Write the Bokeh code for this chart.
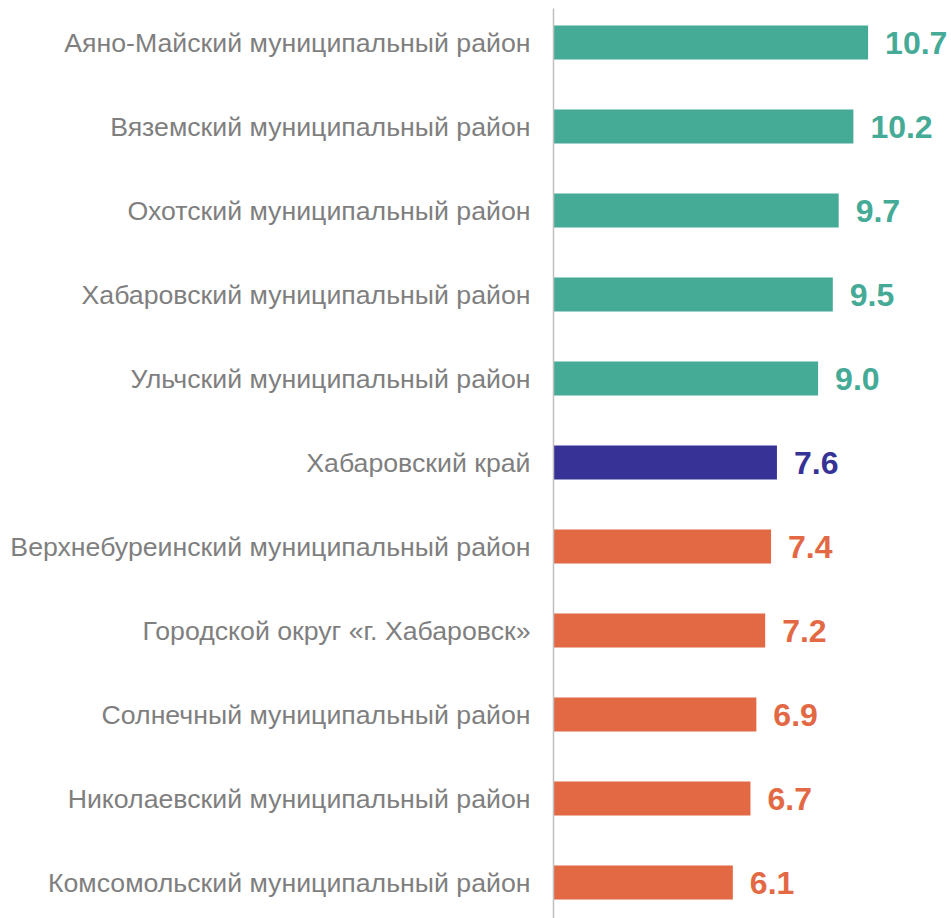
from bokeh.plotting import figure
from bokeh.models import ColumnDataSource, Range1d, FixedTicker
from bokeh.core.properties import value
from bokeh.embed import file_html
from bokeh.resources import INLINE

# Data (top to bottom as in the chart)
districts = [
    "Аяно-Майский муниципальный район",
    "Вяземский муниципальный район",
    "Охотский муниципальный район",
    "Хабаровский муниципальный район",
    "Ульчский муниципальный район",
    "Хабаровский край",
    "Верхнебуреинский муниципальный район",
    "Городской округ «г. Хабаровск»",
    "Солнечный муниципальный район",
    "Николаевский муниципальный район",
    "Комсомольский муниципальный район",
]
values = [10.7, 10.2, 9.7, 9.5, 9.0, 7.6, 7.4, 7.2, 6.9, 6.7, 6.1]
groups = ["above", "above", "above", "above", "above", "region",
          "below", "below", "below", "below", "below"]

palette = {"above": "#45AA96", "region": "#363296", "below": "#E36945"}

n = len(districts)
ypos = [n - 1 - i for i in range(n)]
src = ColumnDataSource(dict(
    y=ypos,
    v=values,
    label=[f"{v:.1f}" for v in values],
    color=[palette[g] for g in groups],
))

p = figure(
    frame_width=398, frame_height=910,
    output_backend="svg", toolbar_location=None,
    x_range=Range1d(0, 398 / 29.4),
    y_range=Range1d(-36 / 84, (n - 1) + 34 / 84),
    min_border=0, min_border_left=553, min_border_right=0,
    min_border_top=8, min_border_bottom=0,
)
p.outline_line_color = None
p.background_fill_color = "white"
p.border_fill_color = "white"
p.xgrid.visible = False
p.ygrid.visible = False
p.xaxis.visible = False

p.hbar(y="y", right="v", left=0, height=34 / 84, color="color", line_color=None, source=src)

p.text(x="v", y="y", text="label", source=src, x_offset=17,
       text_baseline="middle", text_align="left",
       text_font=value("Liberation Sans"), text_font_style="bold",
       text_font_size="32px", text_color="color")

ax = p.yaxis[0]
ax.ticker = FixedTicker(ticks=ypos)
ax.major_label_overrides = {y: d for y, d in zip(ypos, districts)}
ax.axis_line_color = "#BFBFBF"
ax.axis_line_width = 1.5
ax.major_tick_line_color = None
ax.minor_tick_line_color = None
ax.major_label_standoff = 17
ax.major_label_text_font = "Liberation Sans"
ax.major_label_text_font_size = "26.7px"
ax.major_label_text_color = "#7F7F7F"

open("out.html", "w").write(file_html(p, INLINE))
